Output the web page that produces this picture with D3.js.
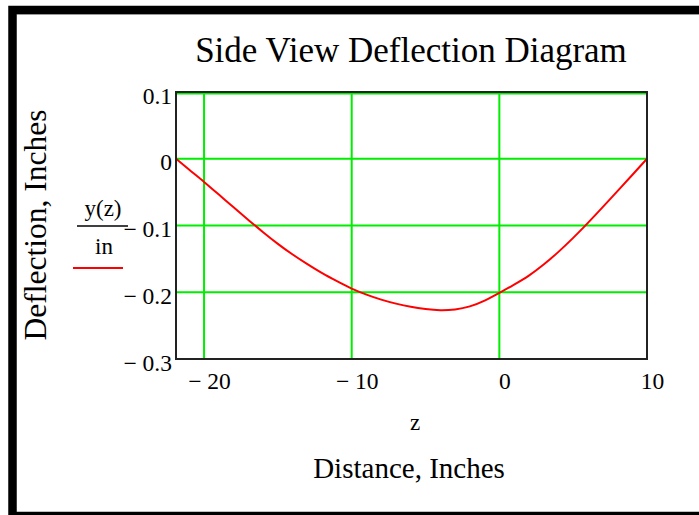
<!DOCTYPE html>
<html>
<head>
<meta charset="utf-8">
<script src="https://cdn.jsdelivr.net/npm/d3@7"></script>
<style>
  html, body { margin: 0; padding: 0; background: #fff; }
  svg { display: block; }
  text { font-family: "Liberation Serif", "Times New Roman", serif; fill: #000; }
</style>
</head>
<body>
<svg id="chart" width="699" height="515"></svg>
<script>
// ---- data ----
const zValues = [-21.9, -21, -20, -19, -18, -17, -16, -15, -14, -13, -12, -11, -10, -9, -8, -7, -6, -5, -4, -3, -2, -1, 0, 1, 2, 3, 4, 5, 6, 7, 8, 9, 10];
const deflection = [0, -0.0166, -0.0347, -0.0537, -0.0728, -0.0916, -0.110, -0.1275, -0.1435, -0.158, -0.1715, -0.1835, -0.1945, -0.2035, -0.211, -0.217, -0.2218, -0.2252, -0.227, -0.2258, -0.2212, -0.2125, -0.201, -0.1885, -0.175, -0.1585, -0.1395, -0.1185, -0.096, -0.0725, -0.0485, -0.0243, 0];
const xTicks = [-20, -10, 0, 10];
const yTicks = [0.1, 0, -0.1, -0.2, -0.3];
const xDomain = [-21.9, 10];
const yDomain = [-0.3, 0.1];
const titleText = "Side View Deflection Diagram";
const xLabel = "Distance, Inches";
const xVarLabel = "z";
const yLabel = "Deflection, Inches";
const yNum = "y(z)";
const yDen = "in";

(function () {
const points = zValues.map((z, i) => ({ z, y: deflection[i] }));

const svg = d3.select("#chart");
const pLeft = 176, pRight = 647, pTop = 92, pBottom = 359;

const x = d3.scaleLinear().domain(xDomain).range([pLeft, pRight]);
const y = d3.scaleLinear().domain(yDomain).range([pBottom, pTop]);

// outer frame
svg.append("rect")
  .attr("x", 12.5).attr("y", 10)
  .attr("width", 800).attr("height", 506)
  .attr("fill", "none").attr("stroke", "#000").attr("stroke-width", 8.5);
svg.append("line").attr("x1", 17).attr("x2", 699).attr("y1", 14.5).attr("y2", 14.5)
  .attr("stroke", "#999").attr("stroke-width", 1);

// gridlines
const grid = svg.append("g");
grid.selectAll("line.h").data(yTicks).join("line")
  .attr("x1", pLeft).attr("x2", pRight)
  .attr("y1", d => y(d) + (d === yDomain[1] ? 1.5 : 0))
  .attr("y2", d => y(d) + (d === yDomain[1] ? 1.5 : 0))
  .attr("stroke", "#00ee00").attr("stroke-width", 2);
grid.selectAll("line.v").data(xTicks).join("line")
  .attr("y1", pTop).attr("y2", pBottom)
  .attr("x1", d => x(d)).attr("x2", d => x(d))
  .attr("stroke", "#00ee00").attr("stroke-width", 2);

// curve
const line = d3.line().x(d => x(d.z)).y(d => y(d.y)).curve(d3.curveNatural);
svg.append("path").datum(points)
  .attr("d", line)
  .attr("fill", "none").attr("stroke", "#ff0000").attr("stroke-width", 2);

// plot box
svg.append("rect")
  .attr("x", pLeft).attr("y", pTop)
  .attr("width", pRight - pLeft).attr("height", pBottom - pTop)
  .attr("fill", "none").attr("stroke", "#222").attr("stroke-width", 2);

const fmt = v => {
  if (v === 0) return "0";
  const s = d3.format("~g")(Math.abs(v));
  return v < 0 ? "\u2212 " + s : s;
};

// y tick labels via axis
const yAxis = d3.axisLeft(y).tickValues(yTicks).tickSize(0).tickPadding(4).tickFormat(fmt);
const gy = svg.append("g").attr("transform", `translate(${pLeft},0)`).call(yAxis);
gy.select(".domain").remove();
gy.selectAll("text").attr("font-size", 23.5).attr("dy", null).attr("y", 11)
  .style("font-family", "Liberation Serif");

// x tick labels via axis
const xAxis = d3.axisBottom(x).tickValues(xTicks).tickSize(0).tickPadding(0).tickFormat(fmt);
const gx = svg.append("g").attr("transform", `translate(0,${pBottom})`).call(xAxis);
gx.select(".domain").remove();
gx.selectAll("text").attr("font-size", 23.5).attr("dy", null).attr("y", 30).attr("x", 5)
  .style("font-family", "Liberation Serif");

// title
svg.append("text").attr("x", 411).attr("y", 62).attr("text-anchor", "middle")
  .attr("font-size", 35).text(titleText);

// x labels
svg.append("text").attr("x", 415).attr("y", 430).attr("text-anchor", "middle")
  .attr("font-size", 23).text(xVarLabel);
svg.append("text").attr("x", 409).attr("y", 478).attr("text-anchor", "middle")
  .attr("font-size", 29).text(xLabel);

// y label
svg.append("text").attr("transform", "translate(46,225) rotate(-90)")
  .attr("text-anchor", "middle").attr("font-size", 31.5).text(yLabel);

// fraction legend
svg.append("text").attr("x", 103).attr("y", 216).attr("text-anchor", "middle")
  .attr("font-size", 23).text(yNum);
svg.append("line").attr("x1", 77).attr("x2", 128).attr("y1", 226).attr("y2", 226)
  .attr("stroke", "#000").attr("stroke-width", 1.5);
svg.append("text").attr("x", 104).attr("y", 254).attr("text-anchor", "middle")
  .attr("font-size", 23).text(yDen);
svg.append("line").attr("x1", 73).attr("x2", 123).attr("y1", 268).attr("y2", 268)
  .attr("stroke", "#ff0000").attr("stroke-width", 2);
})();
</script>
</body>
</html>
